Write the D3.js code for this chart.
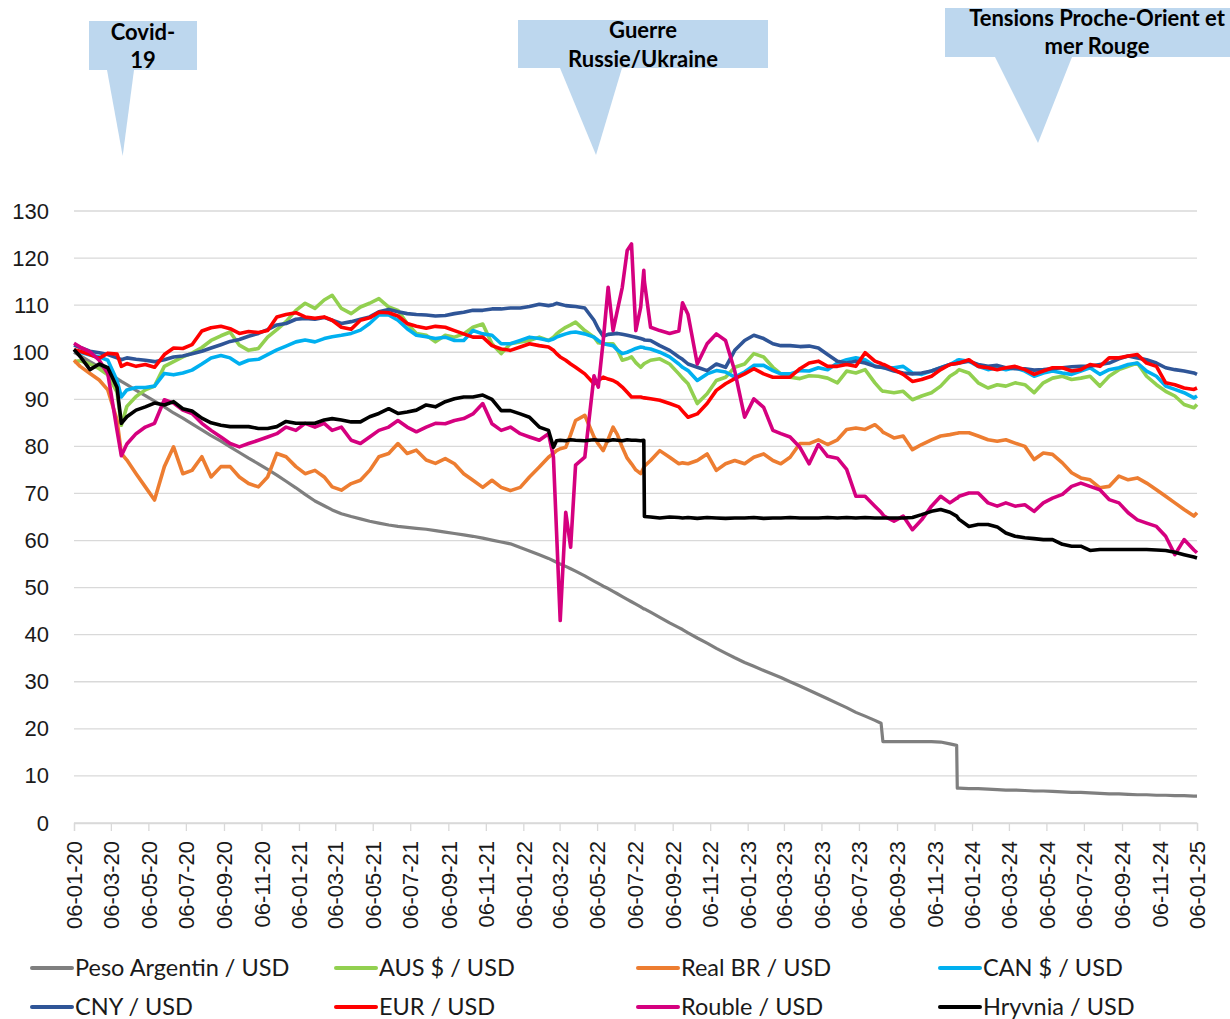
<!DOCTYPE html>
<html>
<head>
<meta charset="utf-8">
<script src="https://cdn.jsdelivr.net/npm/d3@7"></script>
<style>
  body { margin: 0; background: #fff; }
  svg { display: block; }
</style>
</head>
<body>
<div id="chart"></div>
<script>

// observation dates (roughly semi-monthly, a few extra around the big moves)
var dates = [
  // 2020
  "2020-01-06","2020-01-16","2020-02-01","2020-02-16","2020-03-01","2020-03-16","2020-03-23","2020-04-01","2020-04-16","2020-05-01","2020-05-16","2020-06-01","2020-06-16","2020-07-01","2020-07-16","2020-08-01","2020-08-16","2020-09-01","2020-09-16","2020-10-01","2020-10-16","2020-11-01","2020-11-16","2020-12-01","2020-12-16",
  // 2021
  "2021-01-01","2021-01-16","2021-02-01","2021-02-16","2021-03-01","2021-03-16","2021-04-01","2021-04-16","2021-05-01","2021-05-16","2021-06-01","2021-06-16","2021-07-01","2021-07-16","2021-08-01","2021-08-16","2021-09-01","2021-09-16","2021-10-01","2021-10-16","2021-11-01","2021-11-16","2021-12-01","2021-12-16",
  // 2022
  "2022-01-01","2022-01-16","2022-02-01","2022-02-16","2022-02-24","2022-03-01","2022-03-07","2022-03-16","2022-03-24","2022-04-01","2022-04-16","2022-05-01","2022-05-08","2022-05-16","2022-05-24","2022-06-01","2022-06-08","2022-06-16","2022-06-24","2022-07-01","2022-07-08","2022-07-16","2022-07-21","2022-07-22","2022-08-01","2022-08-16","2022-09-01","2022-09-16","2022-09-22","2022-10-01","2022-10-16","2022-11-01","2022-11-16","2022-12-01","2022-12-16",
  // 2023
  "2023-01-01","2023-01-16","2023-02-01","2023-02-16","2023-03-01","2023-03-16","2023-04-01","2023-04-16","2023-05-01","2023-05-16","2023-06-01","2023-06-16","2023-07-01","2023-07-16","2023-08-01","2023-08-11","2023-08-14","2023-08-16","2023-09-01","2023-09-16","2023-10-01","2023-10-16","2023-11-01","2023-11-16","2023-12-01","2023-12-12","2023-12-13","2023-12-16",
  // 2024 - 2025
  "2024-01-01","2024-01-16","2024-02-01","2024-02-16","2024-03-01","2024-03-16","2024-04-01","2024-04-16","2024-05-01","2024-05-16","2024-06-01","2024-06-16","2024-07-01","2024-07-16","2024-08-01","2024-08-16","2024-09-01","2024-09-16","2024-10-01","2024-10-16","2024-11-01","2024-11-16","2024-12-01","2024-12-16","2025-01-01","2025-01-06"
];

// base 100 indices, one line per year in the same order as dates
var peso = [
  100, 99.3, 98, 96.9, 95.7, 94.4, 93.8, 93.1, 91.9, 90.8, 89.6, 88.4, 87.1, 86, 84.8, 83.5, 82.3, 81.1, 79.9, 78.7, 77.5, 76.3, 75.1, 73.9, 72.6,
  71.2, 69.8, 68.4, 67.4, 66.5, 65.7, 65.1, 64.6, 64.1, 63.7, 63.3, 63, 62.8, 62.6, 62.4, 62.1, 61.8, 61.5, 61.2, 60.9, 60.5, 60.1, 59.7, 59.3,
  58.5, 57.8, 57, 56.2, 55.7, 55.4, 55, 54.5, 54, 53.5, 52.5, 51.4, 50.9, 50.3, 49.8, 49.2, 48.7, 48.1, 47.5, 47, 46.5, 45.9, 45.5, 45.5, 44.8, 43.7, 42.5, 41.5, 41.1, 40.4, 39.3, 38.2, 37.1, 36.1, 35.1,
  34.1, 33.3, 32.4, 31.6, 30.9, 30, 29.1, 28.2, 27.3, 26.4, 25.4, 24.5, 23.5, 22.7, 21.8, 21.2, 17.3, 17.3, 17.3, 17.3, 17.3, 17.3, 17.3, 17.2, 16.8, 16.5, 7.4, 7.4,
  7.3, 7.3, 7.2, 7.1, 7, 7, 6.9, 6.8, 6.8, 6.7, 6.6, 6.5, 6.5, 6.4, 6.3, 6.2, 6.2, 6.1, 6, 6, 5.9, 5.9, 5.8, 5.8, 5.7, 5.7
];
var aud = [
  98, 98.2, 97.5, 96.5, 95.2, 91.5, 84.5, 88.5, 90.6, 92, 92.8, 97, 98, 99, 99.8, 101, 102.5, 103.5, 104.3, 101.5, 100.4, 100.8, 103.2, 104.8, 106.5,
  108.9, 110.4, 109.3, 111.1, 112.1, 109.3, 108.2, 109.6, 110.4, 111.4, 109.6, 108.9, 106.1, 104, 103.6, 102.2, 103.6, 103.2, 103.9, 105.3, 106, 101.8, 99.7, 101.8,
  102.2, 102.5, 103.2, 102.5, 103.2, 103.9, 104.5, 105.3, 105.8, 106.4, 104.6, 103.2, 102, 101.8, 101.8, 101.8, 100.5, 98.3, 98.6, 99, 97.8, 96.8, 97.5, 97.6, 98.3, 98.6, 97.5, 95.4, 94.5, 93.3, 89.1, 91.2, 94, 94.7, 96.8,
  97.5, 99.7, 99, 96.8, 95.4, 94.7, 94.4, 95, 94.9, 94.5, 93.5, 96, 95.6, 96.3, 93.5, 92, 91.7, 91.7, 91.4, 91.7, 89.9, 90.7, 91.4, 92.8, 94.9, 95.8, 96, 96.3,
  95.6, 93.5, 92.4, 93.1, 92.8, 93.5, 93.1, 91.4, 93.5, 94.5, 94.9, 94.2, 94.5, 94.9, 92.8, 94.9, 96.3, 97, 97.7, 94.9, 93.1, 91.7, 90.7, 88.9, 88.2, 88.9
];
var brl = [
  98.3, 97, 95.5, 94.1, 92, 85.6, 78.5, 77.1, 74.2, 71.4, 68.6, 75.7, 79.9, 74.2, 74.9, 77.8, 73.5, 75.7, 75.7, 73.5, 72.1, 71.4, 73.5, 78.5, 77.8,
  75.7, 74.2, 74.9, 73.5, 71.4, 70.7, 72.1, 72.8, 74.9, 77.8, 78.5, 80.6, 78.5, 79.2, 77.1, 76.4, 77.4, 76.3, 74.2, 72.8, 71.3, 72.8, 71.3, 70.6,
  71.3, 73.5, 75.6, 77.7, 78.5, 79.1, 79.5, 79.8, 82.5, 85.5, 86.6, 82, 80.5, 79.1, 81.5, 84.1, 82.5, 79.8, 77.5, 76.3, 75, 74.2, 75.5, 75.8, 77, 79.1, 77.7, 76.3, 76.5, 76.3, 77, 78.4, 74.9, 76.3, 77,
  76.3, 77.7, 78.4, 77, 76.3, 77.7, 80.6, 80.6, 81.4, 80.4, 81.4, 83.6, 83.9, 83.6, 84.6, 83.5, 83, 82.9, 81.8, 82.2, 79.3, 80.4, 81.4, 82.2, 82.5, 82.8, 82.8, 82.9,
  82.9, 82.2, 81.4, 81.1, 81.4, 80.7, 80, 77.2, 78.6, 78.3, 76.5, 74.4, 73.3, 72.9, 71.2, 71.5, 73.7, 72.9, 73.3, 72.2, 70.8, 69.4, 68, 66.6, 65.2, 65.9
];
var cad = [
  100.4, 100, 99.4, 99, 98.3, 94, 90.5, 92, 92.5, 92.5, 92.8, 95.5, 95.2, 95.6, 96.2, 97.5, 98.8, 99.3, 98.8, 97.5, 98.3, 98.5, 99.5, 100.5, 101.3,
  102.2, 102.6, 102.2, 102.9, 103.3, 103.6, 104, 104.7, 106.1, 107.9, 107.9, 106.8, 105, 103.6, 103.3, 102.9, 103.2, 102.5, 102.5, 104.6, 103.9, 103.6, 101.8, 101.8,
  102.5, 103.2, 102.9, 102.5, 102.8, 103.2, 103.5, 103.9, 104.2, 104.3, 103.9, 103.2, 102.5, 101.8, 101.6, 101.4, 100.5, 99.7, 100, 100.4, 100.8, 101.1, 101, 100.9, 100.7, 100, 99, 97.5, 96.8, 96.1, 94, 95.4, 96.1, 95.8, 94.7,
  95.8, 97.2, 97.2, 96.1, 95.4, 95.4, 96.1, 96, 96.7, 96.3, 97.7, 98.4, 98.8, 98.4, 97, 96.8, 96.7, 96.7, 96.7, 97, 95.6, 95.3, 96, 96.7, 97.4, 98.2, 98.3, 98.4,
  98.1, 97, 96.3, 96.7, 96.3, 96.7, 96, 94.9, 95.6, 96, 95.6, 95.3, 96, 96.7, 95.3, 96.3, 96.7, 97.4, 97.7, 96, 94.9, 92.8, 92.1, 91.4, 90.3, 90.7
];
var cny = [
  101.5, 101, 100.2, 99.9, 99.5, 98.8, 98.4, 98.8, 98.5, 98.3, 98, 98.4, 99, 99.2, 99.7, 100.2, 100.9, 101.6, 102.3, 102.7, 103.4, 104, 104.8, 105.8, 106.1,
  107, 107.2, 107, 107.4, 106.8, 106.1, 106.5, 107, 107.5, 108.6, 109.1, 108.6, 108.2, 108, 107.9, 107.7, 107.8, 108.2, 108.5, 108.9, 108.9, 109.2, 109.2, 109.4,
  109.4, 109.7, 110.2, 109.9, 110.1, 110.4, 110.2, 109.9, 109.8, 109.7, 109.4, 106.8, 105, 103.4, 103.8, 103.9, 104, 103.8, 103.6, 103.4, 103.2, 102.9, 102.7, 102.6, 102.5, 101.4, 100.4, 99, 98.5, 97.5, 96.8, 96.1, 97.5, 96.8, 100.4,
  102.5, 103.6, 102.9, 101.8, 101.4, 101.4, 101.2, 101.3, 100.9, 99.5, 98.1, 97.7, 98.1, 97.7, 97, 96.8, 96.8, 96.7, 96, 95.6, 95.4, 95.6, 96, 96.7, 97.4, 97.6, 97.6, 97.7,
  98.1, 97.4, 97, 97.2, 96.7, 96.5, 96.5, 96.2, 96.3, 96.5, 96.7, 96.9, 97, 97, 97.4, 97.7, 98.6, 99.2, 98.8, 98.4, 97.7, 96.7, 96.3, 96, 95.6, 95.3
];
var eur = [
  100.5, 100.2, 99.5, 98.7, 99.8, 99.6, 97, 97.6, 97, 97.4, 96.8, 99.5, 100.9, 100.8, 101.6, 104.5, 105.2, 105.5, 105, 104, 104.4, 104.2, 104.6, 107.5, 108,
  108.4, 107.5, 107.2, 107.5, 106.8, 105.3, 104.9, 106.8, 107.3, 108.5, 108.4, 107.7, 106.1, 105.5, 105.1, 105.5, 105.3, 104.6, 103.9, 103.2, 103.2, 101.4, 100.7, 100.4,
  101.1, 101.8, 101.4, 101.1, 100.4, 99.7, 99, 98.3, 97.5, 96.8, 95.4, 93.3, 94, 94.7, 94.3, 94, 93.5, 92.6, 91.5, 90.5, 90.5, 90.5, 90.3, 90.3, 90.1, 89.8, 89.1, 88.4, 87.5, 86.2, 86.9, 89.1, 91.9, 93.3, 94.4,
  95.4, 96.5, 95.4, 94.7, 94.7, 94.7, 96.5, 97.7, 98.1, 97, 97, 97.4, 97, 99.9, 98.1, 97.6, 97.4, 97.4, 96.3, 95.3, 93.8, 94.2, 94.9, 96.3, 97.4, 97.6, 97.7, 97.7,
  98.4, 97, 96.7, 96.3, 96.7, 97, 96.3, 95.3, 96, 96.7, 96.7, 96, 96.3, 97.4, 97, 98.8, 98.8, 99.2, 99.5, 97.7, 97, 93.5, 93.1, 92.4, 92.1, 92.4
];
var rub = [
  101.9, 101.1, 100.1, 98.3, 95.5, 83.4, 78, 80.5, 82.7, 84.1, 84.9, 89.9, 89.2, 87.7, 87, 84.9, 83.4, 82, 80.6, 79.9, 80.6, 81.3, 82, 82.7, 84.1,
  83.4, 84.9, 84.1, 84.9, 83.4, 84.1, 81.3, 80.6, 82, 83.4, 84.1, 85.5, 84.1, 83.1, 84.1, 84.9, 84.8, 85.5, 85.9, 86.9, 89.1, 84.8, 83.4, 84.1,
  82.7, 82, 81.3, 82.7, 77.7, 62, 43, 66, 58.6, 76, 77.7, 95, 92.6, 102.5, 113.8, 104.6, 108.9, 113.8, 121.6, 123, 104.6, 109.6, 117.4, 115, 105.3, 104.6, 104, 104.5, 110.5, 108, 97.5, 101.8, 103.9, 102.5, 96,
  86.2, 90.1, 88.3, 83.4, 82.7, 82, 79.8, 76.3, 80.4, 77.9, 77.5, 75.1, 69.4, 69.4, 67.3, 66, 65.5, 65.2, 64.1, 65.2, 62.3, 64.4, 67.3, 69.4, 68, 69, 69, 69.4,
  70.1, 70.1, 68, 67.3, 68, 67.3, 67.6, 66.2, 68, 69, 69.8, 71.5, 72.2, 71.5, 70.8, 68.7, 68, 65.9, 64.4, 63.7, 63, 60.9, 57, 60.2, 58, 57.4
];
var uah = [
  100.6, 99.1, 96.3, 97.5, 96.7, 92.5, 84.9, 86.3, 87.7, 88.4, 89.2, 88.8, 89.5, 88, 87.5, 86, 85, 84.5, 84.2, 84.2, 84.2, 83.8, 83.8, 84.2, 85.3,
  84.9, 84.9, 84.9, 85.6, 85.9, 85.6, 85.2, 85.2, 86.3, 87, 88, 87, 87.3, 87.7, 88.8, 88.4, 89.5, 90.1, 90.5, 90.5, 90.9, 90, 87.6, 87.6,
  86.9, 86.2, 84.1, 83.4, 79.8, 81.2, 81.3, 81.2, 81.4, 81.3, 81.2, 81.4, 81.3, 81.3, 81.2, 81.4, 81.3, 81.2, 81.4, 81.3, 81.3, 81.2, 81.3, 65.1, 65, 64.8, 65, 64.9, 64.8, 64.9, 64.7, 64.9, 64.8, 64.7, 64.8,
  64.8, 64.9, 64.7, 64.8, 64.8, 64.9, 64.8, 64.8, 64.8, 64.9, 64.8, 64.9, 64.8, 64.9, 64.8, 64.8, 64.8, 64.8, 64.8, 64.8, 64.9, 65.5, 66.2, 66.6, 66, 65.2, 65, 64.5,
  63, 63.4, 63.4, 62.9, 61.6, 60.9, 60.6, 60.4, 60.2, 60.2, 59.2, 58.8, 58.8, 57.9, 58.1, 58.1, 58.1, 58.1, 58.1, 58.1, 58, 57.9, 57.5, 57, 56.5, 56.3
];

var seriesNames = ["Peso Argentin / USD", "AUS $ / USD", "Real BR / USD", "CAN $ / USD",
                   "CNY / USD", "EUR / USD", "Rouble / USD", "Hryvnia / USD"];
var seriesValues = [peso, aud, brl, cad, cny, eur, rub, uah];
var seriesColors = ["#7f7f7f", "#92d050", "#ed7d31", "#00b0f0",
                    "#2f5597", "#ff0000", "#d5007f", "#000000"];

var yTicks = [0, 10, 20, 30, 40, 50, 60, 70, 80, 90, 100, 110, 120, 130];

// callouts at the top
var calloutLines = [["Covid-", "19"], ["Guerre", "Russie/Ukraine"], ["Tensions Proche-Orient et", "mer Rouge"]];

// set the dimensions and margins of the graph
var margin = {top: 211, right: 33, bottom: 196, left: 74},
    width = 1230 - margin.left - margin.right,
    height = 1019 - margin.top - margin.bottom;

var svg = d3.select("#chart")
  .append("svg")
    .attr("width", 1230)
    .attr("height", 1019);

var chart = svg.append("g")
    .attr("transform", "translate(" + margin.left + "," + margin.top + ")");

var parseDate = d3.timeParse("%Y-%m-%d");
var dateObjs = dates.map(parseDate);

var x = d3.scaleTime()
  .domain([new Date(2020, 0, 6), new Date(2025, 0, 6)])
  .range([0, width]);

var y = d3.scaleLinear()
  .domain([0, 130])
  .range([height, 0]);

// horizontal grid lines
chart.append("g")
  .selectAll("line")
  .data(yTicks)
  .enter()
  .append("line")
    .attr("x1", 0)
    .attr("x2", width)
    .attr("y1", function(d) { return y(d); })
    .attr("y2", function(d) { return y(d); })
    .attr("stroke", "#d9d9d9")
    .attr("stroke-width", 1.3);

// Y axis labels
var yAxis = chart.append("g")
  .attr("transform", "translate(-25,0)")
  .call(d3.axisLeft(y).tickValues(yTicks).tickSize(0).tickPadding(0));
yAxis.select(".domain").remove();
yAxis.selectAll("text")
  .style("font-family", "'Liberation Sans', Arial, sans-serif")
  .style("font-size", "22px")
  .attr("fill", "#1a1a1a");

// X axis, one tick every two months on the 6th
var xTicks = d3.range(31).map(function(i) { return new Date(2020, 2 * i, 6); });
var xAxis = chart.append("g")
  .attr("transform", "translate(0," + height + ")")
  .call(d3.axisBottom(x).tickValues(xTicks).tickSize(8).tickFormat(d3.timeFormat("%d-%m-%y")));
xAxis.select(".domain").attr("stroke", "#d9d9d9").attr("stroke-width", 1.3);
xAxis.selectAll(".tick line").attr("stroke", "#d9d9d9").attr("stroke-width", 1.3);
xAxis.selectAll("text")
  .attr("transform", "rotate(-90)")
  .attr("x", -18)
  .attr("y", 0)
  .attr("dy", "0.35em")
  .style("text-anchor", "end")
  .style("font-family", "'Liberation Sans', Arial, sans-serif")
  .style("font-size", "22px")
  .attr("fill", "#1a1a1a");

// Lines
var line = d3.line()
  .x(function(d, i) { return x(dateObjs[i]); })
  .y(function(d) { return y(d); });

seriesValues.forEach(function(vals, k) {
  if (vals.length !== dates.length) console.warn(seriesNames[k] + ": " + vals.length + " values for " + dates.length + " dates");
  chart.append("path")
    .datum(vals.slice(0, dates.length))
    .attr("fill", "none")
    .attr("stroke", seriesColors[k])
    .attr("stroke-width", k === 0 ? 3.2 : 3.6)
    .attr("stroke-linejoin", "round")
    .attr("d", line);
});

// Legend, 2 rows of 4
var legendCols = [32, 336, 638, 940],
    legendRows = [968, 1007];
var legend = svg.append("g");
seriesNames.forEach(function(name, k) {
  var lx = legendCols[k % 4], ly = legendRows[Math.floor(k / 4)];
  legend.append("line")
    .attr("x1", lx).attr("x2", lx + 40)
    .attr("y1", ly).attr("y2", ly)
    .attr("stroke", seriesColors[k])
    .attr("stroke-width", 4)
    .attr("stroke-linecap", "round");
  legend.append("text")
    .attr("x", lx + 43)
    .attr("y", ly)
    .attr("dy", "0.35em")
    .style("font-family", "Lato, 'Open Sans', sans-serif")
    .style("font-size", "23.5px")
    .attr("fill", "#1a1a1a")
    .text(name);
});

// Callouts: box + pointer
var boxes = [
  {x: 89, y: 21, w: 108, h: 49, tri: [[107, 70], [134, 70], [122.7, 156]], cx: 143, base: [40, 68]},
  {x: 518, y: 20, w: 250, h: 48, tri: [[560, 68], [622, 68], [596, 155]], cx: 643, base: [38, 67]},
  {x: 945, y: 8, w: 285, h: 49, tri: [[995, 57], [1072, 57], [1038, 143]], cx: 1097, base: [26, 54]}
];
var notes = svg.append("g");
boxes.forEach(function(b, k) {
  notes.append("path")
    .attr("d", d3.line()(b.tri) + "Z")
    .attr("fill", "#bdd7ee");
  notes.append("rect")
    .attr("x", b.x).attr("y", b.y)
    .attr("width", b.w).attr("height", b.h)
    .attr("fill", "#bdd7ee");
  calloutLines[k].forEach(function(t, j) {
    notes.append("text")
      .attr("x", b.cx)
      .attr("y", b.base[j])
      .attr("text-anchor", "middle")
      .style("font-family", "Lato, 'Open Sans', sans-serif")
      .style("font-weight", "bold")
      .style("font-size", "22px")
      .attr("fill", "#000")
      .text(t);
  });
});

</script>
</body>
</html>
